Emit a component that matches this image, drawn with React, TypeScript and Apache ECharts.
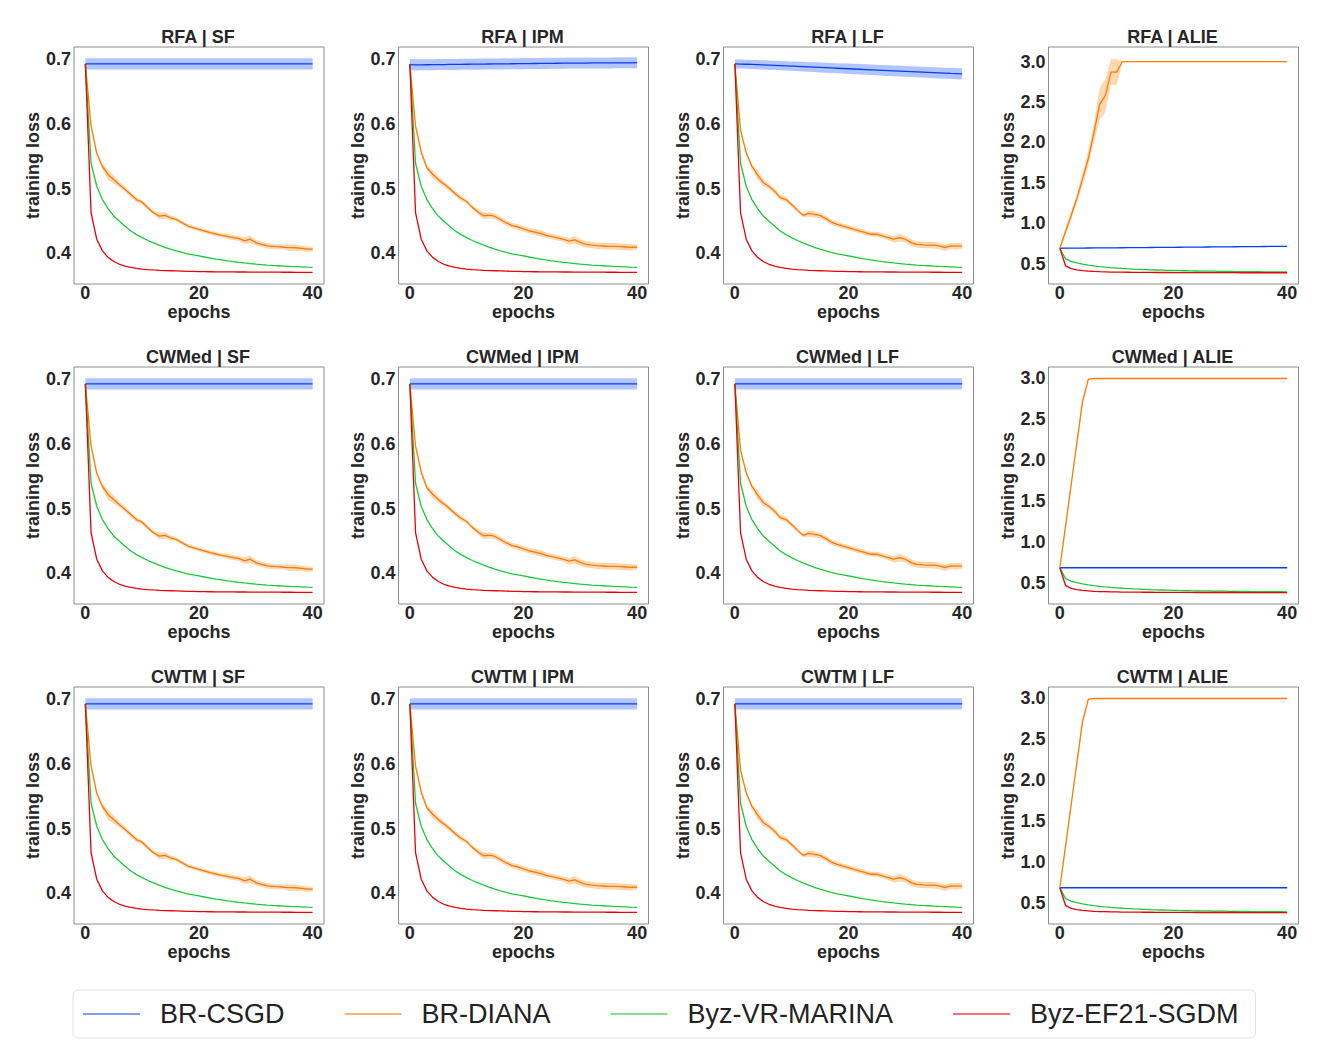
import React, { useEffect, useRef } from "react";
import * as echarts from "echarts";

const EPOCHS = [0,1,2,3,4,5,6,7,8,9,10,11,12,13,14,15,16,17,18,19,20,21,22,23,24,25,26,27,28,29,30,31,32,33,34,35,36,37,38,39,40];

const ROWS = ["RFA", "CWMed", "CWTM"];
const COLS = ["SF", "IPM", "LF", "ALIE"];
const METHODS = ["BR-CSGD", "BR-DIANA", "Byz-VR-MARINA", "Byz-EF21-SGDM"];
const X_TICKS = [0, 20, 40];
const Y_TICKS_STD = [0.4, 0.5, 0.6, 0.7];
const Y_TICKS_ALIE = [0.5, 1.0, 1.5, 2.0, 2.5, 3.0];

// BR-CSGD
const blueFlat = [0.692,0.692,0.692,0.692,0.692,0.692,0.692,0.692,0.692,0.692,0.692,0.692,0.692,0.692,0.692,0.692,0.692,0.692,0.692,0.692,0.692,0.692,0.692,0.692,0.692,0.692,0.692,0.692,0.692,0.692,0.692,0.692,0.692,0.692,0.692,0.692,0.692,0.692,0.692,0.692,0.692];
const blueFlatBand = [0.0087,0.0087,0.0087,0.0087,0.0087,0.0087,0.0087,0.0087,0.0087,0.0087,0.0087,0.0087,0.0087,0.0087,0.0087,0.0087,0.0087,0.0087,0.0087,0.0087,0.0087,0.0087,0.0087,0.0087,0.0087,0.0087,0.0087,0.0087,0.0087,0.0087,0.0087,0.0087,0.0087,0.0087,0.0087,0.0087,0.0087,0.0087,0.0087,0.0087,0.0087];
const blueIPM = [0.691,0.6905,0.6906,0.6907,0.6908,0.6909,0.691,0.6911,0.6912,0.6913,0.6914,0.6915,0.6916,0.6917,0.6918,0.6919,0.692,0.6921,0.6922,0.6923,0.6924,0.6925,0.6926,0.6927,0.6928,0.6929,0.693,0.6931,0.6932,0.6932,0.6933,0.6933,0.6934,0.6934,0.6935,0.6935,0.6936,0.6936,0.6937,0.6937,0.6938];
const blueIPMBand = [0.0085,0.0085,0.0085,0.0085,0.0085,0.0085,0.0085,0.0085,0.0085,0.0085,0.0085,0.0085,0.0085,0.0085,0.0085,0.0085,0.0085,0.0085,0.0085,0.0085,0.0085,0.0085,0.0085,0.0085,0.0085,0.0085,0.0085,0.0085,0.0085,0.0085,0.0085,0.0085,0.0085,0.0085,0.0085,0.0085,0.0085,0.0085,0.0085,0.0085,0.0085];
const blueLF = [0.692,0.6917,0.6914,0.6911,0.6908,0.6905,0.6901,0.6897,0.6893,0.6889,0.6885,0.6881,0.6877,0.6873,0.6869,0.6865,0.6861,0.6857,0.6853,0.6849,0.6845,0.6841,0.6837,0.6833,0.6829,0.6825,0.6821,0.6817,0.6813,0.6809,0.6805,0.6801,0.6797,0.6793,0.6789,0.6785,0.6781,0.6777,0.6773,0.677,0.6767];
const blueLFBand = [0.007,0.007,0.007,0.007,0.007,0.007,0.007,0.007,0.007,0.007,0.0072,0.0072,0.0074,0.0074,0.0075,0.0076,0.0077,0.0077,0.0078,0.0078,0.0079,0.008,0.008,0.008,0.0081,0.0081,0.0082,0.0082,0.0082,0.0083,0.0083,0.0083,0.0084,0.0084,0.0084,0.0085,0.0085,0.0085,0.0086,0.0086,0.0086];
const blueAlieRFA = [0.692,0.6925,0.693,0.6936,0.6942,0.6948,0.6954,0.696,0.6966,0.6972,0.6978,0.6984,0.699,0.6996,0.7002,0.7008,0.7014,0.702,0.7026,0.7032,0.7038,0.7044,0.705,0.7056,0.7062,0.7068,0.7074,0.708,0.7086,0.7092,0.7098,0.7104,0.711,0.7116,0.7122,0.7128,0.7134,0.714,0.7146,0.7152,0.7158];
const blueAlieBand = [0,0.002,0.002,0.002,0.002,0.002,0.002,0.002,0.002,0.002,0.002,0.002,0.002,0.002,0.002,0.002,0.002,0.002,0.002,0.002,0.002,0.002,0.002,0.002,0.002,0.002,0.002,0.002,0.002,0.002,0.002,0.002,0.002,0.002,0.002,0.002,0.002,0.002,0.002,0.002,0.002];

// BR-DIANA
const orangeSF = [0.692,0.597,0.5547,0.534,0.5214,0.5138,0.506,0.4985,0.4908,0.483,0.479,0.4704,0.4628,0.4576,0.4587,0.455,0.4525,0.4475,0.4423,0.4398,0.4372,0.4346,0.432,0.43,0.428,0.4265,0.4245,0.4234,0.4193,0.422,0.4168,0.4142,0.4116,0.411,0.4107,0.4096,0.409,0.4088,0.408,0.4066,0.4066];
const orangeSFBand = [0,0.002,0.003,0.004,0.008,0.006,0.004,0.004,0.004,0.004,0.003,0.003,0.003,0.005,0.005,0.004,0.003,0.003,0.003,0.003,0.003,0.003,0.003,0.003,0.003,0.004,0.004,0.004,0.005,0.006,0.004,0.004,0.004,0.004,0.004,0.004,0.005,0.005,0.004,0.004,0.004];
const orangeIPM = [0.692,0.596,0.556,0.532,0.522,0.514,0.507,0.5,0.492,0.485,0.48,0.471,0.464,0.458,0.459,0.457,0.452,0.447,0.443,0.441,0.438,0.435,0.433,0.431,0.428,0.426,0.424,0.422,0.419,0.421,0.417,0.414,0.413,0.412,0.4115,0.411,0.411,0.4105,0.41,0.4095,0.41];
const orangeIPMBand = [0,0.002,0.003,0.004,0.006,0.005,0.004,0.004,0.004,0.004,0.003,0.003,0.004,0.005,0.005,0.004,0.004,0.004,0.004,0.004,0.004,0.004,0.005,0.005,0.004,0.004,0.004,0.004,0.005,0.006,0.005,0.005,0.005,0.005,0.005,0.005,0.005,0.005,0.005,0.005,0.004];
const orangeLF = [0.692,0.59,0.555,0.534,0.521,0.509,0.5035,0.496,0.486,0.483,0.4755,0.4668,0.4587,0.4617,0.4602,0.4587,0.4536,0.4484,0.4449,0.4423,0.4398,0.4372,0.4346,0.432,0.4296,0.4296,0.427,0.4245,0.422,0.4245,0.422,0.4168,0.414,0.4133,0.413,0.4128,0.4116,0.409,0.4116,0.4112,0.4116];
const orangeLFBand = [0,0.002,0.003,0.004,0.007,0.005,0.004,0.004,0.004,0.004,0.003,0.003,0.003,0.005,0.005,0.004,0.004,0.004,0.004,0.004,0.004,0.004,0.004,0.004,0.004,0.004,0.004,0.004,0.005,0.006,0.005,0.005,0.005,0.005,0.005,0.005,0.005,0.005,0.005,0.005,0.004];
const orangeAlieRFA = [0.692,0.9,1.1,1.31,1.55,1.8,2.12,2.47,2.58,2.87,2.87,3.0,3.0,3.0,3.0,3.0,3.0,3.0,3.0,3.0,3.0,3.0,3.0,3.0,3.0,3.0,3.0,3.0,3.0,3.0,3.0,3.0,3.0,3.0,3.0,3.0,3.0,3.0,3.0,3.0,3.0];
const orangeAlieRFABand = [0,0.05,0.05,0.05,0.08,0.1,0.12,0.2,0.2,0.16,0.16,0,0,0,0,0,0,0,0,0,0,0,0,0,0,0,0,0,0,0,0,0,0,0,0,0,0,0,0,0,0];
const orangeAlieCW = [0.692,1.2,1.71,2.22,2.72,2.99,3.0,3.0,3.0,3.0,3.0,3.0,3.0,3.0,3.0,3.0,3.0,3.0,3.0,3.0,3.0,3.0,3.0,3.0,3.0,3.0,3.0,3.0,3.0,3.0,3.0,3.0,3.0,3.0,3.0,3.0,3.0,3.0,3.0,3.0,3.0];
const orangeAlieCWBand = [0,0.03,0.04,0.04,0.04,0.01,0,0,0,0,0,0,0,0,0,0,0,0,0,0,0,0,0,0,0,0,0,0,0,0,0,0,0,0,0,0,0,0,0,0,0];

// Byz-VR-MARINA
const greenStd = [0.692,0.539,0.5035,0.483,0.469,0.4576,0.4495,0.442,0.4346,0.429,0.4245,0.42,0.4163,0.4128,0.4095,0.4066,0.404,0.4016,0.3995,0.3978,0.3963,0.3946,0.393,0.3914,0.39,0.3887,0.3875,0.3864,0.3854,0.3845,0.3836,0.3829,0.3822,0.3816,0.3811,0.3806,0.3801,0.3797,0.3793,0.3789,0.3786];
const greenAlie = [0.692,0.56,0.53,0.51,0.495,0.483,0.473,0.465,0.458,0.452,0.447,0.442,0.438,0.434,0.431,0.428,0.425,0.423,0.421,0.419,0.417,0.415,0.414,0.412,0.411,0.41,0.409,0.408,0.407,0.406,0.405,0.404,0.403,0.403,0.402,0.402,0.401,0.401,0.4,0.4,0.399];

// Byz-EF21-SGDM
const redStd = [0.692,0.4628,0.422,0.404,0.394,0.3877,0.3834,0.3805,0.3785,0.377,0.376,0.3752,0.3746,0.3741,0.3737,0.3734,0.3731,0.3728,0.3725,0.3723,0.3721,0.372,0.3719,0.3718,0.3717,0.3716,0.3716,0.3715,0.3715,0.3714,0.3714,0.3713,0.3713,0.3712,0.3712,0.3711,0.3711,0.371,0.371,0.371,0.3709];
const redAlie = [0.692,0.475,0.44,0.425,0.415,0.41,0.405,0.402,0.4,0.398,0.397,0.396,0.395,0.394,0.394,0.393,0.393,0.392,0.392,0.392,0.391,0.391,0.391,0.391,0.39,0.39,0.39,0.39,0.39,0.39,0.39,0.39,0.389,0.389,0.389,0.389,0.389,0.389,0.389,0.389,0.389];

const COLORS = ["#023eff", "#ff7c00", "#1ac938", "#e8000b"];
const BAND_COLORS = ["rgba(2,62,255,0.3)", "rgba(255,124,0,0.3)"];
const LEGEND_COLORS = ["rgba(2,62,255,0.5)", "rgba(255,124,0,0.55)", "rgba(26,201,56,0.55)", "rgba(232,0,11,0.55)"];

const FONT = "'Liberation Sans', Arial, sans-serif";

type Panel = {
  title: string;
  alie: boolean;
  blue: number[]; blueBand: number[];
  orange: number[]; orangeBand: number[];
  green: number[]; red: number[];
};

function buildPanels(): Panel[] {
  const out: Panel[] = [];
  ROWS.forEach((r, ri) => {
    COLS.forEach((c) => {
      const alie = c === "ALIE";
      let p: Panel;
      if (alie) {
        p = {
          title: `${r} | ${c}`, alie,
          blue: ri === 0 ? blueAlieRFA : blueFlat,
          blueBand: blueAlieBand,
          orange: ri === 0 ? orangeAlieRFA : orangeAlieCW,
          orangeBand: ri === 0 ? orangeAlieRFABand : orangeAlieCWBand,
          green: greenAlie, red: redAlie,
        };
      } else {
        const blue = c === "SF" ? blueFlat : c === "IPM" ? (ri === 0 ? blueIPM : blueFlat) : (ri === 0 ? blueLF : blueFlat);
        const blueBand = c === "LF" && ri === 0 ? blueLFBand : c === "IPM" && ri === 0 ? blueIPMBand : blueFlatBand;
        p = {
          title: `${r} | ${c}`, alie,
          blue, blueBand,
          orange: c === "SF" ? orangeSF : c === "IPM" ? orangeIPM : orangeLF,
          orangeBand: c === "SF" ? orangeSFBand : c === "IPM" ? orangeIPMBand : orangeLFBand,
          green: greenStd, red: redStd,
        };
      }
      out.push(p);
    });
  });
  return out;
}

const GRID_LEFTS = [74, 398.5, 723.5, 1048.5];
const GRID_TOPS = [47, 367, 687];
const GRID_W = 250;
const GRID_H = 237;

function App() {
  const ref = useRef<HTMLDivElement>(null);
  useEffect(() => {
    if (!ref.current) return;
    const chart = echarts.init(ref.current, undefined, { renderer: "svg" });
    const panels = buildPanels();
    const grids: any[] = [];
    const xAxes: any[] = [];
    const yAxes: any[] = [];
    const series: any[] = [];
    const graphics: any[] = [];
    const labelStyle = { fontFamily: FONT, fontWeight: "bold", fontSize: 18, color: "#262626" };

    panels.forEach((p, i) => {
      const ri = Math.floor(i / 4);
      const ci = i % 4;
      const left = GRID_LEFTS[ci];
      const top = GRID_TOPS[ri];
      grids.push({ left, top, width: GRID_W, height: GRID_H, show: true, borderColor: "#8c8c8c", borderWidth: 1, backgroundColor: "#fff", containLabel: false });
      xAxes.push({
        type: "value", gridIndex: i, min: -2, max: 42,
        axisLine: { show: false }, axisTick: { show: false }, splitLine: { show: false },
        axisLabel: { ...labelStyle, margin: 0, customValues: X_TICKS, formatter: (v: number) => String(v) },
        name: "epochs", nameLocation: "middle", nameGap: 13, nameTextStyle: { ...labelStyle },
      });
      const yMin = p.alie ? 0.25 : 0.353;
      const yMax = p.alie ? (ri === 0 ? 3.18 : 3.14) : 0.718;
      yAxes.push({
        type: "value", gridIndex: i, min: yMin, max: yMax,
        axisLine: { show: false }, axisTick: { show: false }, splitLine: { show: false },
        axisLabel: { ...labelStyle, margin: 3, customValues: p.alie ? Y_TICKS_ALIE : Y_TICKS_STD, formatter: (v: number) => v.toFixed(1) },
        name: "training loss", nameLocation: "middle", nameGap: 27, nameRotate: 90, nameTextStyle: { ...labelStyle },
      });
      graphics.push({
        type: "text", x: left + GRID_W / 2 - 1, y: top - 10,
        style: { text: p.title, font: `bold 18px ${FONT}`, fill: "#262626", textAlign: "center", textVerticalAlign: "middle" },
      });

      const bands: [number[], number[], number][] = [[p.blue, p.blueBand, 0], [p.orange, p.orangeBand, 1]];
      bands.forEach(([vals, hw, bi]) => {
        const data = EPOCHS.map((e, k) => [e, vals[k] - hw[k], vals[k] + hw[k]]);
        series.push({
          type: "custom", name: `band-${i}-${bi}`, xAxisIndex: i, yAxisIndex: i,
          coordinateSystem: "cartesian2d", silent: true, clip: true, z: 1,
          encode: { x: 0, y: [1, 2] },
          data,
          renderItem: (params: any, api: any) => {
            if (params.dataIndex !== 0) return null;
            const upper = data.map((d) => api.coord([d[0], d[2]]));
            const lower = data.map((d) => api.coord([d[0], d[1]])).reverse();
            return {
              type: "polygon",
              shape: { points: upper.concat(lower) },
              style: { fill: BAND_COLORS[bi], stroke: "none" },
            };
          },
        });
      });
      const lines = [p.blue, p.orange, p.green, p.red];
      lines.forEach((vals, m) => {
        series.push({
          type: "line", name: METHODS[m], xAxisIndex: i, yAxisIndex: i,
          data: EPOCHS.map((e, k) => [e, vals[k]]),
          showSymbol: false, color: COLORS[m],
          lineStyle: { width: 1.3, color: COLORS[m] }, z: 2 + m,
        });
      });
    });

    chart.setOption({
      animation: false,
      backgroundColor: "#fff",
      grid: grids,
      xAxis: xAxes,
      yAxis: yAxes,
      series,
      graphic: graphics,
      legend: {
        left: 73, top: 990,
        selectedMode: false,
        data: METHODS.map((n, m) => ({ name: n, itemStyle: { color: LEGEND_COLORS[m] } })),
        icon: "rect", itemWidth: 57, itemHeight: 2, itemGap: 60,
        padding: [9, 17, 9, 10],
        backgroundColor: "#fff", borderColor: "#e3e3e3", borderWidth: 1, borderRadius: 5,
        textStyle: { fontFamily: FONT, fontSize: 27, color: "#222", lineHeight: 30, padding: [0, 0, 0, 15] },
      },
    });
    return () => chart.dispose();
  }, []);
  return <div ref={ref} style={{ position: "fixed", left: 0, top: 0, width: 1329, height: 1063 }} />;
}

export default App;
